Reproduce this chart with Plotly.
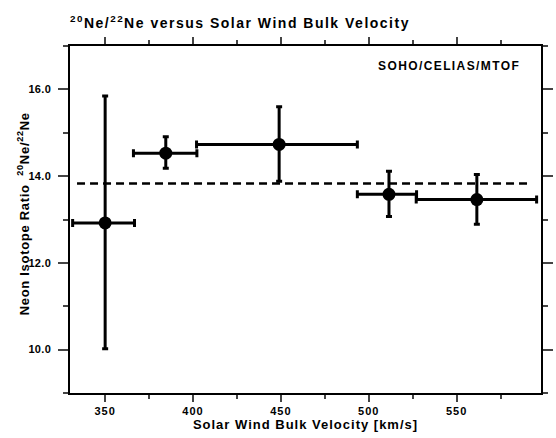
import plotly.graph_objects as go

velocity = [350, 384.5, 449, 511.5, 561.5]
ratio = [12.92, 14.53, 14.73, 13.58, 13.46]
ratio_err_plus = [2.93, 0.38, 0.87, 0.53, 0.58]
ratio_err_minus = [2.90, 0.35, 0.85, 0.51, 0.57]
vel_err_plus = [16.7, 17.7, 44.5, 15.7, 34.0]
vel_err_minus = [18.5, 18.4, 47.0, 18.0, 34.5]
mean_ratio = 13.83
mean_x = [334, 591]
x_ticks = [350, 400, 450, 500, 550]
x_ticklabels = ["350", "400", "450", "500", "550"]
y_ticks = [10, 12, 14, 16]
y_ticklabels = ["10.0", "12.0", "14.0", "16.0"]

FONT = "Liberation Sans, Arial, sans-serif"


def sp(s, px):
    return f'<span style="letter-spacing:{px}px">{s}</span>'


def ne_ratio(px):
    return (f"<sup>{sp('20', px)}</sup>{sp('Ne/', px)}"
            f"<sup>{sp('22', px)}</sup>{sp('Ne', px)}")


fig = go.Figure()
fig.add_trace(go.Scatter(
    x=mean_x, y=[mean_ratio, mean_ratio], mode="lines",
    line=dict(color="black", width=2.5, dash="8px,5px"), showlegend=False))
fig.add_trace(go.Scatter(
    x=velocity, y=ratio, mode="markers",
    marker=dict(color="black", size=13),
    error_y=dict(type="data", array=ratio_err_plus, arrayminus=ratio_err_minus,
                 color="black", thickness=3, width=3),
    error_x=dict(type="data", array=vel_err_plus, arrayminus=vel_err_minus,
                 color="black", thickness=3, width=4),
    showlegend=False))

fig.update_layout(
    width=556, height=438,
    margin=dict(l=70, r=3, t=46, b=45),
    paper_bgcolor="white", plot_bgcolor="white",
    font=dict(family=FONT, color="black", size=11, weight="bold"),
    xaxis=dict(range=[330, 598], tickvals=x_ticks,
               ticktext=[sp(t, 1.0) for t in x_ticklabels],
               ticks="outside", ticklen=7,
               tickwidth=1.5, showline=True, linecolor="black", linewidth=1.5,
               mirror="ticks", showgrid=False, zeroline=False,
               minor=dict(dtick=25, tick0=350, ticks="outside", ticklen=4, tickwidth=1.5),
               title=dict(text=sp("Solar Wind Bulk Velocity [km/s]", 1), standoff=2,
                          font=dict(size=13, family=FONT, weight="bold")),
               tickfont=dict(size=11, family=FONT, weight="bold")),
    yaxis=dict(range=[9, 17], tickvals=y_ticks,
               ticktext=[sp(t, 0.3) for t in y_ticklabels],
               ticks="outside", ticklen=10, ticklabelstandoff=5,
               tickwidth=1.5, showline=True, linecolor="black", linewidth=1.5,
               mirror="ticks", showgrid=False, zeroline=False,
               minor=dict(dtick=1, tick0=10, ticks="outside", ticklen=5, tickwidth=1.5),
               tickfont=dict(size=11, family=FONT, weight="bold")),
    annotations=[
        dict(text=ne_ratio(1.5) + sp(" versus Solar Wind Bulk Velocity", 1.5),
             x=-0.004, y=1.07, xref="paper", yref="paper", xanchor="left", yanchor="middle",
             showarrow=False, font=dict(size=14, family=FONT, weight="bold")),
        dict(text=sp("SOHO/CELIAS/MTOF", 1.4), x=0.9586, y=0.968, xref="paper", yref="paper",
             xanchor="right", yanchor="top", showarrow=False,
             font=dict(size=12, family=FONT, weight="bold")),
        dict(text=sp("Neon Isotope Ratio  ", 0.7) + ne_ratio(0.7),
             x=-0.099, y=0.516, xref="paper", yref="paper", xanchor="center", yanchor="middle",
             textangle=-90, showarrow=False, font=dict(size=13, family=FONT, weight="bold")),
    ],
)

fig.write_html("out.html")
